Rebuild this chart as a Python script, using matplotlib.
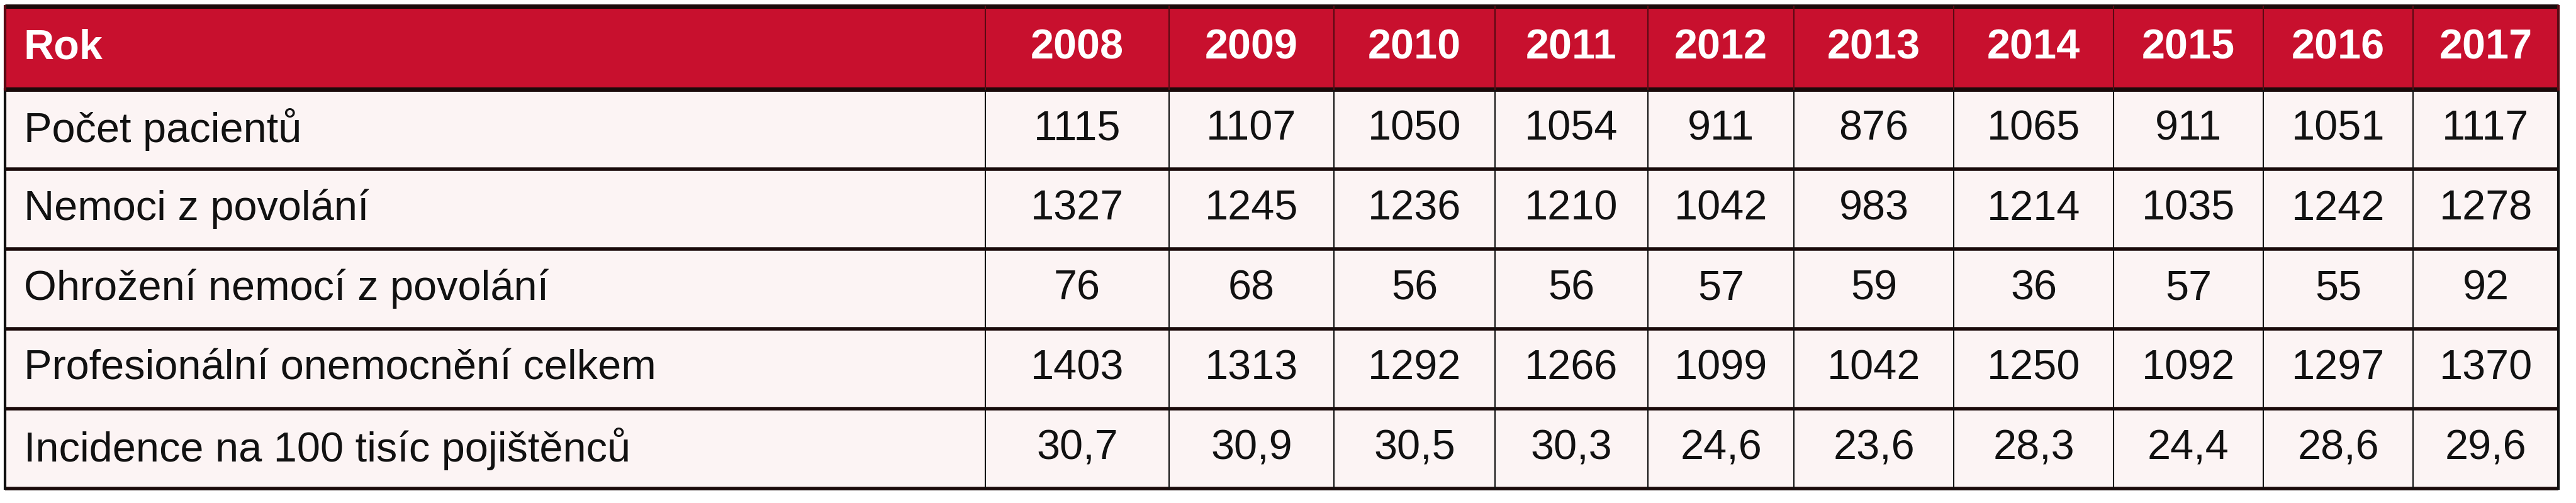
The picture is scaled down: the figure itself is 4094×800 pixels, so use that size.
import matplotlib
matplotlib.use('Agg')
import matplotlib.pyplot as plt
from matplotlib.patches import Rectangle

years = ['2008', '2009', '2010', '2011', '2012', '2013', '2014', '2015', '2016', '2017']
row_labels = ['Počet pacientů', 'Nemoci z povolání', 'Ohrožení nemocí z povolání',
              'Profesionální onemocnění celkem', 'Incidence na 100 tisíc pojištěnců']
pacienti = ['1115', '1107', '1050', '1054', '911', '876', '1065', '911', '1051', '1117']
nemoci = ['1327', '1245', '1236', '1210', '1042', '983', '1214', '1035', '1242', '1278']
ohrozeni = ['76', '68', '56', '56', '57', '59', '36', '57', '55', '92']
celkem = ['1403', '1313', '1292', '1266', '1099', '1042', '1250', '1092', '1297', '1370']
incidence = ['30,7', '30,9', '30,5', '30,3', '24,6', '23,6', '28,3', '24,4', '28,6', '29,6']
rows = [pacienti, nemoci, ohrozeni, celkem, incidence]

# column edges in pixels
col_x = [8, 1566, 1858, 2120, 2376, 2619, 2851, 3105, 3359, 3597, 3835, 4066]
top, head_h, row_h = 10, 132, 127
RED = '#c8102e'
BG = '#fcf4f4'
FONT = ['Liberation Sans', 'DejaVu Sans']

fig = plt.figure(figsize=(40.94, 8), dpi=100)
ax = fig.add_axes([0, 0, 1, 1])
ax.set_xlim(0, 4094)
ax.set_ylim(800, 0)
ax.axis('off')

# header
ax.add_patch(Rectangle((col_x[0], top), col_x[-1] - col_x[0], head_h, color=RED))
hy = top + head_h / 2
ax.text(col_x[0] + 30, hy, 'Rok', color='white', fontsize=48, fontweight='bold',
        family=FONT, va='center', ha='left')
for i, y in enumerate(years):
    ax.text((col_x[i + 1] + col_x[i + 2]) / 2, hy, y, color='white', fontsize=48,
            fontweight='bold', family=FONT, va='center', ha='center')

# body
body_top = top + head_h
ax.add_patch(Rectangle((col_x[0], body_top), col_x[-1] - col_x[0], row_h * len(rows), color=BG))
for r, (lab, vals) in enumerate(zip(row_labels, rows)):
    cy = body_top + r * row_h + row_h / 2
    ax.text(col_x[0] + 30, cy, lab, fontsize=48, family=FONT, va='center', ha='left', color='#111111')
    for i, v in enumerate(vals):
        ax.text((col_x[i + 1] + col_x[i + 2]) / 2, cy, v, fontsize=48, family=FONT,
                va='center', ha='center', color='#111111')

# grid lines
bottom = body_top + row_h * len(rows)
for k in range(len(rows) + 2):
    yy = top if k == 0 else body_top + (k - 1) * row_h
    ax.plot([col_x[0], col_x[-1]], [yy, yy], color='#1a0a0a', lw=5 if k < 2 else 4, solid_capstyle='butt')
for j, x in enumerate(col_x):
    lw = 3 if j in (0, len(col_x) - 1) else 1.5
    ax.plot([x, x], [body_top, bottom], color='#111111', lw=lw)
    ax.plot([x, x], [top, body_top], color='#5a0a14', lw=lw)

fig.savefig('out.png', dpi=100, facecolor='white')
